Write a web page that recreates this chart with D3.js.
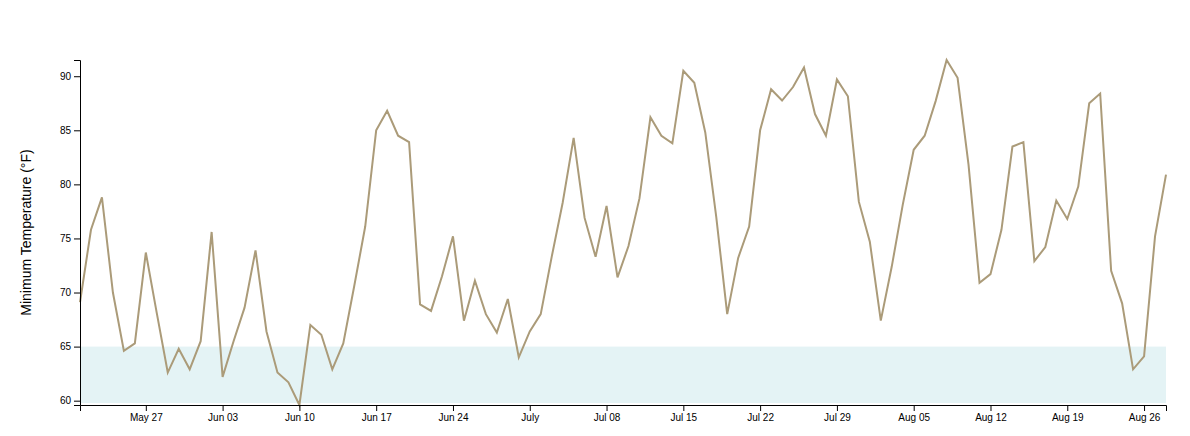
<!DOCTYPE html>
<html>
<head>
<meta charset="utf-8">
<script src="https://cdn.jsdelivr.net/npm/d3@7"></script>
<style>
  html, body { margin: 0; padding: 0; background: #fff; }
  svg { display: block; }
  .axis text { font-family: "Liberation Sans", Arial, Helvetica, sans-serif; font-size: 10px; fill: #000; }
  .axis path, .axis line { stroke: #000; }
</style>
</head>
<body>
<svg id="chart" width="1190" height="436"></svg>
<script>
// ---- Data ----
const startDate = new Date(2018, 4, 21);   // May 21, 2018 (daily observations)
const minTemps = [
  69.1, 75.8, 78.8, 70.0, 64.6, 65.3, 73.7, 68.1, 62.6, 64.8,
  62.9, 65.5, 75.6, 62.2, 65.5, 68.6, 73.9, 66.4, 62.6, 61.7,
  59.6, 67.0, 66.1, 62.9, 65.3, 70.6, 76.1, 85.0, 86.8, 84.5,
  83.9, 68.9, 68.3, 71.5, 75.2, 67.4, 71.1, 68.0, 66.3, 69.4,
  64.0, 66.4, 68.0, 73.3, 78.3, 84.3, 76.9, 73.3, 78.0, 71.4,
  74.3, 78.7, 86.2, 84.5, 83.8, 90.5, 89.4, 84.8, 77.0, 68.0,
  73.2, 76.1, 85.0, 88.8, 87.75, 89.0, 90.8, 86.5, 84.5, 89.7,
  88.15, 78.4, 74.7, 67.4, 72.4, 78.1, 83.2, 84.5, 87.7, 91.5,
  89.85, 81.8, 70.9, 71.7, 75.8, 83.5, 83.9, 72.9, 74.2, 78.5,
  76.8, 79.8, 87.5, 88.4, 72.0, 69.0, 62.9, 64.1, 75.2, 80.9
];
const dates = d3.timeDay.range(startDate, d3.timeDay.offset(startDate, minTemps.length));
const data = dates.map((d, i) => ({ date: d, value: minTemps[i] }));
const coolThreshold = 65;
const yLabel = "Minimum Temperature (°F)";

// ---- Layout ----
const margin = { top: 60, right: 24, bottom: 31, left: 80 };
const svg = d3.select("#chart");
const W = +svg.attr("width"), H = +svg.attr("height");
const width = W - margin.left - margin.right;
const height = H - margin.top - margin.bottom;
const g = svg.append("g").attr("transform", `translate(${margin.left},${margin.top})`);

const x = d3.scaleTime().domain(d3.extent(data, d => d.date)).range([0, width]);
const y = d3.scaleLinear().domain(d3.extent(data, d => d.value)).range([height, 0]);

// threshold band
g.append("rect")
  .attr("x", 0)
  .attr("y", y(coolThreshold))
  .attr("width", width)
  .attr("height", height - 2 - y(coolThreshold))
  .attr("fill", "#e4f3f5");

// line
g.append("path")
  .datum(data)
  .attr("fill", "none")
  .attr("stroke", "#ab9b79")
  .attr("stroke-width", 2)
  .attr("stroke-linejoin", "miter")
  .attr("d", d3.line().x(d => x(d.date)).y(d => y(d.value)));

// axes
g.append("g").attr("class", "axis")
  .attr("transform", `translate(0,${height})`)
  .call(d3.axisBottom(x).ticks(d3.timeWeek.every(1)));

g.append("g").attr("class", "axis")
  .call(d3.axisLeft(y));

svg.selectAll(".axis").attr("font-family", null).attr("font-size", null);

// y label
svg.append("text")
  .attr("transform", `translate(31,${margin.top + height / 2}) rotate(-90)`)
  .attr("text-anchor", "middle")
  .style("font-family", "'Liberation Sans', Arial, Helvetica, sans-serif")
  .style("font-size", "14px")
  .attr("fill", "#000")
  .text(yLabel);
</script>
</body>
</html>
